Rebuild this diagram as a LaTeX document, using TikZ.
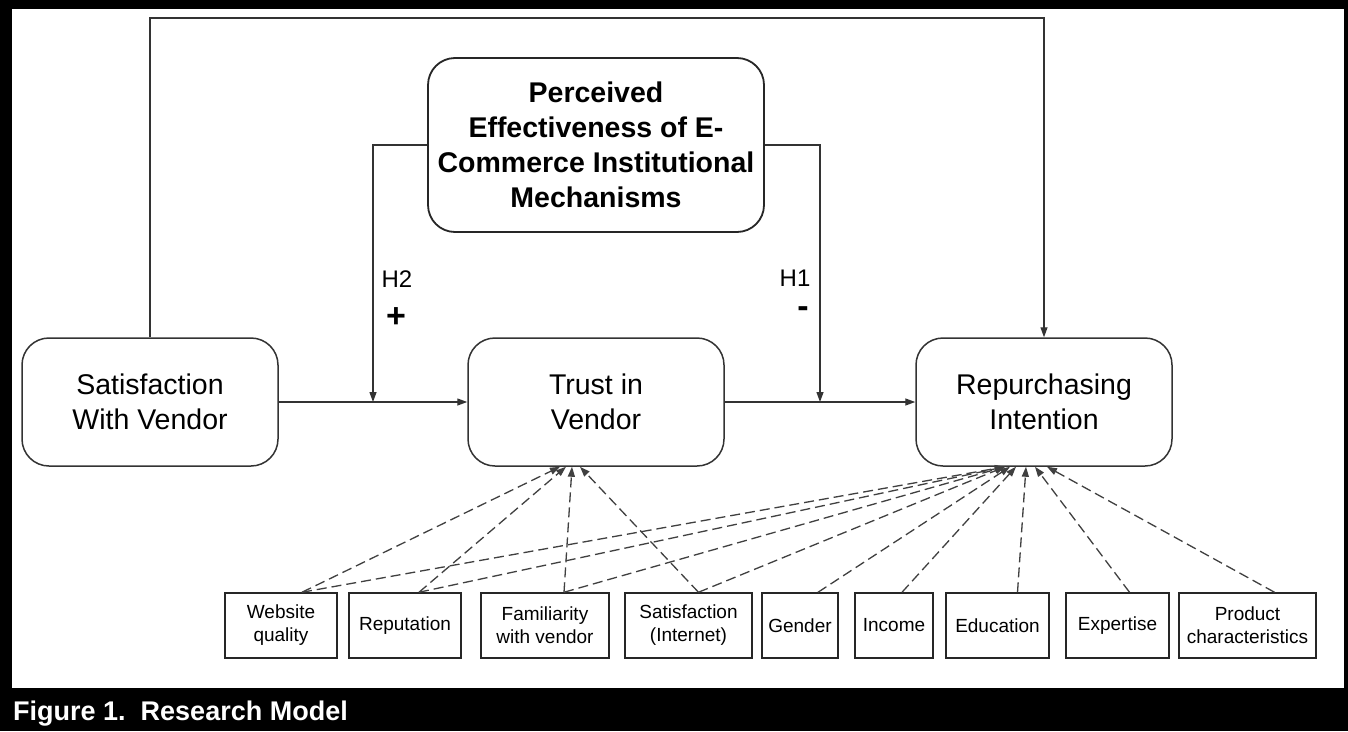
\documentclass[tikz,border=0pt]{standalone}
\usepackage{fontspec}
\setmainfont{Liberation Sans}
\usetikzlibrary{arrows.meta}
\begin{document}
\begin{tikzpicture}[x=1pt,y=-1pt,
  mainbox/.style={draw=black!80,line width=1.5pt,rounded corners=27pt,minimum width=256pt,minimum height=128pt,inner sep=0pt,align=center,font=\fontsize{28.5}{35}\selectfont},
  topbox/.style={draw=black!85,line width=1.8pt,rounded corners=27pt,minimum width=336pt,minimum height=174pt,inner sep=0pt,align=center,font=\bfseries\fontsize{28.5}{35}\selectfont},
  smallbox/.style={draw=black!85,line width=1.5pt,minimum height=65pt,inner sep=0pt,align=center,font=\fontsize{19}{23}\selectfont},
  conn/.style={draw=black!80,line width=1.3pt},
  arr/.style={conn,-{Triangle[length=10pt,width=7pt]}},
  dep/.style={draw=black!75,line width=1.3pt,dash pattern=on 10pt off 5pt,-{Triangle[length=10pt,width=7pt]}},
  lab/.style={font=\fontsize{24}{28}\selectfont}
]
\useasboundingbox (0,0) rectangle (1348,731);
\fill[black] (0,0) rectangle (1348,731);
\fill[white] (12,9) rectangle (1344,688);

% main boxes
\node[mainbox] (sat) at (150,402) {Satisfaction\\With Vendor};
\node[mainbox] (trust) at (596,402) {Trust in\\Vendor};
\node[mainbox] (rep) at (1044,402) {Repurchasing\\Intention};
\node[topbox] (pe) at (596,145) {Perceived\\Effectiveness of E-\\Commerce Institutional\\Mechanisms};

% small boxes
\node[smallbox,minimum width=112pt] (web) at (281,625.5) {Website\\quality};
\node[smallbox,minimum width=112pt] (repu) at (405,625.5) {Reputation};
\node[smallbox,minimum width=128pt] (fam) at (545,625.5) {Familiarity\\with vendor};
\node[smallbox,minimum width=127pt] (sint) at (688.5,625.5) {Satisfaction\\(Internet)};
\node[smallbox,minimum width=76pt] (gen) at (800,625.5) {Gender};
\node[smallbox,minimum width=78pt] (inc) at (894,625.5) {Income};
\node[smallbox,minimum width=103pt] (edu) at (997.5,625.5) {Education};
\node[smallbox,minimum width=103pt] (exp) at (1117.5,625.5) {Expertise};
\node[smallbox,minimum width=137pt] (prod) at (1247.5,625.5) {Product\\characteristics};

% main connectors
\coordinate (m2) at (373,402);
\coordinate (m1) at (820,402);
\draw[arr] (sat.east) -- (trust.west);
\draw[arr] (trust.east) -- (rep.west);
\draw[arr] (pe.west) -| (m2);
\draw[arr] (pe.east) -| (m1);
\coordinate (topl) at (150,18);
\draw[arr] (sat.north) -- (topl) -| (rep.north);

% labels
\node[lab] (h2) at (397,279) {H2};
\node[font=\bfseries\fontsize{34}{34}\selectfont] (plus) at (396,318) {+};
\node[lab] (h1) at (795,278) {H1};
\node[font=\bfseries\fontsize{34}{34}\selectfont] (minus) at (803,312) {-};

% targets
\coordinate (t1) at ([xshift=-36pt]trust.south);
\coordinate (t2) at ([xshift=-30pt]trust.south);
\coordinate (t3) at ([xshift=-24pt]trust.south);
\coordinate (t4) at ([xshift=-16pt]trust.south);
\coordinate (r1) at ([xshift=-39pt]rep.south);
\coordinate (r2) at ([xshift=-34pt]rep.south);
\coordinate (r3) at ([xshift=-28pt]rep.south);
\coordinate (r4) at ([xshift=-18pt]rep.south);
\coordinate (r5) at ([xshift=-9pt]rep.south);
\coordinate (r6) at ([xshift=3pt]rep.south);

\draw[dep] ([xshift=21pt]web.north) -- (t1);
\draw[dep] ([xshift=21pt]web.north) -- (r1);
\draw[dep] ([xshift=14pt]repu.north) -- (t2);
\draw[dep] ([xshift=14pt]repu.north) -- (r1);
\draw[dep] ([xshift=19pt]fam.north) -- (t3);
\draw[dep] ([xshift=19pt]fam.north) -- (r1);
\draw[dep] ([xshift=10pt]sint.north) -- (t4);
\draw[dep] ([xshift=10pt]sint.north) -- (r1);
\draw[dep] ([xshift=18pt]gen.north) -- (r2);
\draw[dep] ([xshift=8pt]inc.north) -- (r3);
\draw[dep] ([xshift=20pt]edu.north) -- (r4);
\draw[dep] ([xshift=12pt]exp.north) -- (r5);
\draw[dep] ([xshift=27pt]prod.north) -- (r6);

% caption
\node[anchor=base west,text=white,font=\bfseries\fontsize{27}{30}\selectfont,inner sep=0pt] (cap) at (13,720) {Figure 1.\ \ Research Model};
\end{tikzpicture}
\end{document}
